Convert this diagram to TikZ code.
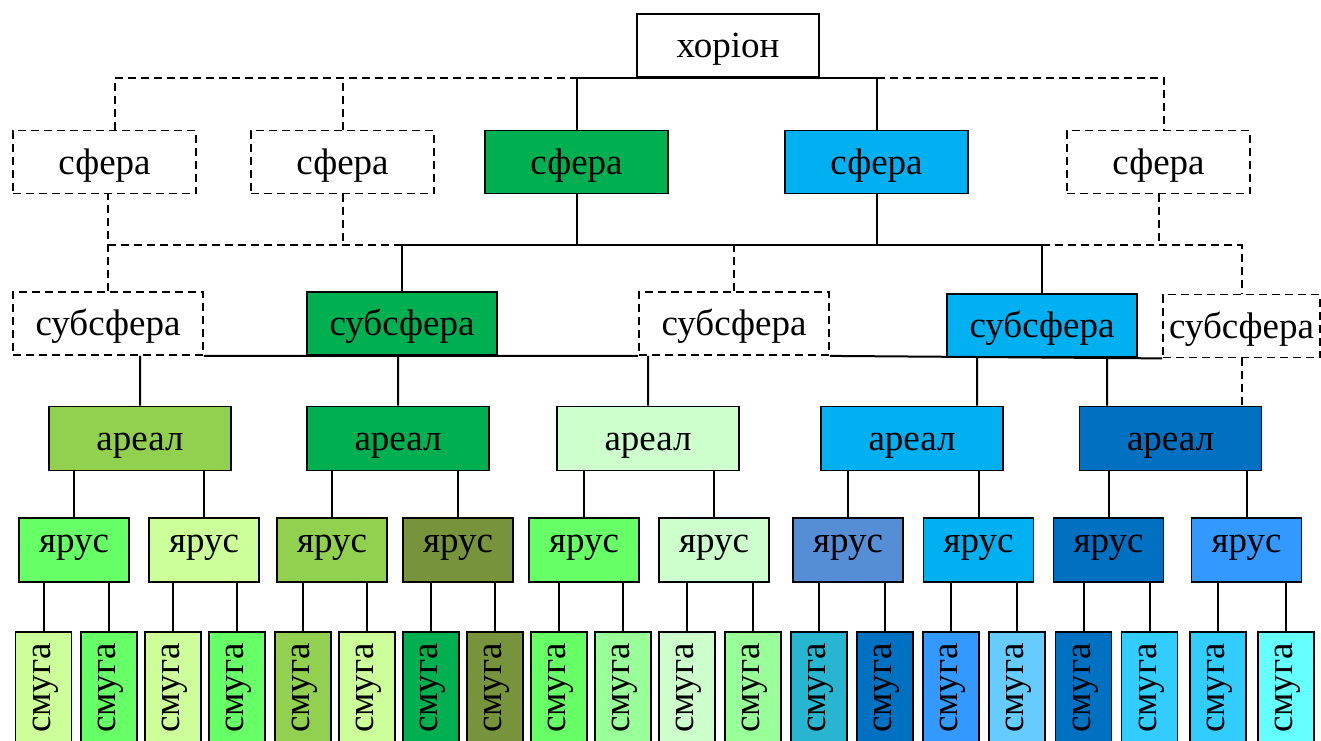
\documentclass[tikz,border=0pt]{standalone}
\usepackage{fontspec}
\setmainfont{Liberation Serif}

\definecolor{grn}{HTML}{00B050}
\definecolor{sky}{HTML}{00B0F0}
\definecolor{navyb}{HTML}{0070C0}
\definecolor{limeg}{HTML}{92D050}
\definecolor{mint}{HTML}{CCFFCC}
\definecolor{pale}{HTML}{CCFF99}
\definecolor{brgt}{HTML}{66FF66}
\definecolor{oliv}{HTML}{77933C}
\definecolor{steel}{HTML}{558ED5}
\definecolor{azure}{HTML}{3399FF}
\definecolor{sea}{HTML}{99FF99}
\definecolor{tealb}{HTML}{27B5CF}
\definecolor{lsky}{HTML}{66CCFF}
\definecolor{cyanb}{HTML}{33CCFF}
\definecolor{aqua}{HTML}{66FFFF}

\begin{document}
\begin{tikzpicture}[x=1pt, y=-1pt,
    box/.style={draw, line width=1.8pt, inner sep=0pt, minimum height=63pt,
        text height=27.5pt, text depth=3.5pt, font=\fontsize{37}{40}\selectfont},
    sph/.style={box, minimum width=183pt},
    sub/.style={box, minimum width=190pt},
    area/.style={box, minimum width=182pt, minimum height=64pt},
    tier/.style={box, minimum width=110pt, minimum height=64pt,
        text height=16.5pt, text depth=11pt},
    band/.style={box, rotate=90, minimum width=112pt, minimum height=56pt,
        text height=22pt, text depth=9pt},
    open/.style={dash pattern=on 8pt off 5pt},
    link/.style={line width=2pt}]
    \useasboundingbox (0,0) rectangle (1321,740);

    \node[box, minimum width=182pt] (hor) at (728,45.5) {хоріон};

    \node[sph, open] (s1) at (104.5,162) {сфера};
    \node[sph, open] (s2) at (342.5,162) {сфера};
    \node[sph, fill=grn] (s3) at (576.5,162) {сфера};
    \node[sph, fill=sky] (s4) at (876.5,162) {сфера};
    \node[sph, open] (s5) at (1158.5,162) {сфера};

    \node[sub, open] (ss1) at (108,323.5) {субсфера};
    \node[sub, fill=grn] (ss2) at (402,323.5) {субсфера};
    \node[sub, open] (ss3) at (734,323.5) {субсфера};
    \node[sub, fill=sky] (ss4) at (1042,325.5) {субсфера};
    \node[sub, open, minimum width=157pt] (ss5) at (1241.5,326) {субсфера};

    \foreach \n/\x/\c in {a1/140/limeg, a2/398/grn, a3/648/mint, a4/912/sky, a5/1170.5/navyb}
        \node[area, fill=\c] (\n) at (\x,438.5) {ареал};

    \foreach \n/\x/\c in {y1/74/brgt, y2/204/pale, y3/332/limeg, y4/458/oliv, y5/584/brgt,
            y6/714/mint, y7/848/steel, y8/978.5/sky, y9/1108.5/navyb, y10/1246.5/azure}
        \node[tier, fill=\c] (\n) at (\x,550) {ярус};

    \foreach \x/\c [count=\i] in {43.5/pale, 109/brgt, 173/pale, 237/brgt, 303/limeg,
            367/pale, 431/grn, 495/oliv, 559/brgt, 623/sea, 687/mint, 753/sea, 819/tealb,
            885/navyb, 951/azure, 1017/lsky, 1083.5/navyb, 1149.5/cyanb, 1218/cyanb, 1286/aqua}
        \node[band, fill=\c] (m\i) at (\x,688) {смуга};

    \draw[link] (s3.north) |- (hor.south) -| (s4.north);
    \draw[link, open] ([xshift=10pt]s1.north) |- (s3.north |- hor.south)
        (s2.north) -- (s2.north |- hor.south)
        (s4.north |- hor.south) -| ([xshift=5pt]s5.north);

    \coordinate (sbus) at (0,245);
    \draw[link] (s3.south) -- (s3.south |- sbus)
        (s4.south) -- (s4.south |- sbus)
        (ss2.north) |- (ss4.north |- sbus) -- (ss4.north);
    \draw[link, open] (ss1.north) -- (ss1.north |- s1.south)
        (ss1.north |- sbus) -- (ss2.north |- sbus)
        (s2.south) -- (s2.south |- sbus)
        (ss3.north) -- (ss3.north |- sbus)
        (s5.south) -- (s5.south |- sbus)
        (ss4.north |- sbus) -| (ss5.north);

    \draw[link] (ss1.south east) -- (ss3.south west)
        (ss3.south east) -- (ss5.south west)
        (a1.north) -- (a1.north |- ss1.south)
        (a2.north) -- (a2.north |- ss2.south)
        (a3.north) -- (a3.north |- ss3.south)
        ([xshift=-65pt]ss4.south) -- ([xshift=-65pt]ss4.south |- a4.north)
        ([xshift=65pt]ss4.south) -- ([xshift=65pt]ss4.south |- a5.north);
    \draw[link, open] (ss5.south) -- (ss5.south |- a5.north);

    \foreach \t/\a in {y1/a1, y2/a1, y3/a2, y4/a2, y5/a3, y6/a3, y7/a4, y8/a4, y9/a5, y10/a5}
        \draw[link] (\t.north) -- (\t.north |- \a.south);

    \foreach \i in {1,...,20} {
        \pgfmathtruncatemacro{\t}{(\i+1)/2}
        \draw[link] (m\i.east) -- (m\i.east |- y\t.south);
    }
\end{tikzpicture}
\end{document}
